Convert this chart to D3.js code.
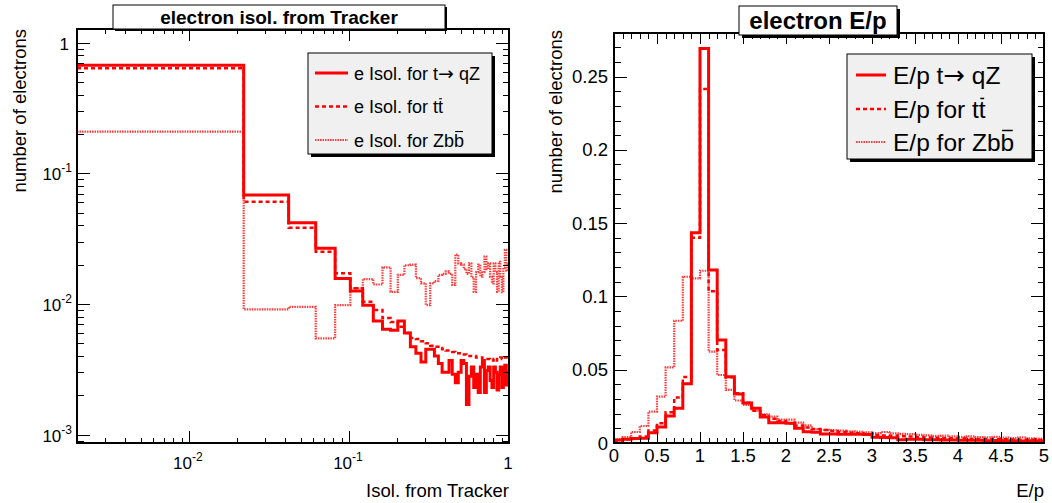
<!DOCTYPE html>
<html><head><meta charset="utf-8">
<script src="https://cdn.jsdelivr.net/npm/d3@7"></script>
<style>
body{margin:0;background:#fff}
svg{display:block}
text{font-family:"Liberation Sans",Arial,Helvetica,sans-serif;fill:#000}
</style>
</head><body>
<svg id="c" width="1052" height="503"></svg>
<script>
// ---------------- DATA ----------------
// Left panel: electron isolation from tracker, 50 bins from 0.002 to 1.002 (width 0.02)
const isoLow = 0.002, isoWidth = 0.02, isoNBins = 50;
const isoTqZ = [0.671,0.0683,0.0419,0.0267,0.0157,0.0126,0.0098,0.0074,0.0064,0.0063,
  0.0074,0.0060,0.0047,0.0042,0.0036,0.0045,0.0045,0.0040,0.0035,0.0030,
  0.0030,0.0037,0.0029,0.0025,0.0030,0.0037,0.0035,0.0017,0.0028,0.0033,
  0.0023,0.0029,0.0021,0.0033,0.0037,0.0021,0.0031,0.0033,0.0026,0.0023,
  0.0033,0.0030,0.0022,0.0029,0.0033,0.0023,0.0030,0.0034,0.0024,0.0030];
const isoTT = [0.637,0.0607,0.0384,0.0251,0.0172,0.0132,0.0104,0.0090,0.0078,0.0073,
  0.0067,0.0060,0.0055,0.0054,0.0052,0.0050,0.0048,0.0047,0.0046,0.0045,
  0.0044,0.0044,0.0043,0.0042,0.0042,0.0041,0.0041,0.0040,0.0040,0.0040,
  0.0040,0.0039,0.0039,0.0039,0.0038,0.0038,0.0038,0.0038,0.0037,0.0037,
  0.0038,0.0037,0.0038,0.0038,0.0039,0.0038,0.0039,0.0039,0.0039,0.0039];
const isoZbb = [0.2084,0.0091,0.0095,0.00546,0.0098,0.0132,0.0155,0.0141,0.0191,0.0124,
  0.0167,0.0198,0.0200,0.0158,0.0144,0.0098,0.0144,0.0150,0.0167,0.0170,
  0.0178,0.0170,0.0140,0.0239,0.0205,0.0200,0.0185,0.0170,0.0205,0.0160,
  0.0124,0.0175,0.0200,0.0162,0.0175,0.0231,0.0185,0.0205,0.0162,0.0144,
  0.0205,0.0175,0.0124,0.0210,0.0162,0.0123,0.0190,0.0260,0.0180,0.0200];

// Right panel: electron E/p, 50 bins from 0 to 5
const epLow = 0, epWidth = 0.1, epNBins = 50;
const epTqZ = [0.0020,0.0025,0.0030,0.0033,0.0070,0.0110,0.0184,0.0237,0.0405,0.1435,
  0.2692,0.1180,0.0703,0.0452,0.0335,0.0273,0.0237,0.0178,0.0139,0.0139,
  0.0135,0.0100,0.0077,0.0074,0.0062,0.0061,0.0060,0.0060,0.0060,0.0058,
  0.0039,0.0038,0.0035,0.0022,0.0026,0.0025,0.0022,0.0023,0.0020,0.0021,
  0.0019,0.0018,0.0018,0.0016,0.0017,0.0015,0.0016,0.0014,0.0015,0.0013];
const epTT = [0.0015,0.0025,0.0030,0.0045,0.0085,0.0135,0.0210,0.0310,0.0450,0.1400,
  0.2415,0.1035,0.0634,0.0448,0.0340,0.0275,0.0220,0.0190,0.0165,0.0150,
  0.0135,0.0120,0.0105,0.0095,0.0088,0.0082,0.0075,0.0070,0.0066,0.0060,
  0.0055,0.0052,0.0050,0.0046,0.0044,0.0040,0.0038,0.0036,0.0034,0.0032,
  0.0030,0.0029,0.0028,0.0027,0.0026,0.0025,0.0024,0.0023,0.0022,0.0021];
const epZbb = [0.0025,0.0040,0.0075,0.0116,0.0214,0.0316,0.0516,0.0834,0.1134,0.1123,
  0.1175,0.0623,0.0464,0.0362,0.0290,0.0260,0.0220,0.0196,0.0180,0.0160,
  0.0160,0.0139,0.0120,0.0095,0.0090,0.0088,0.0085,0.0080,0.0078,0.0072,
  0.0068,0.0075,0.0065,0.0062,0.0060,0.0055,0.0052,0.0048,0.0050,0.0045,
  0.0042,0.0046,0.0040,0.0038,0.0042,0.0036,0.0034,0.0038,0.0032,0.0030];

// legend label parts: [prefix, arrow?, suffix, overlined char]
const leftLegend = [["e Isol. for t", true, " qZ", ""],["e Isol. for t", false, "", "t"],["e Isol. for Zb", false, "", "b"]];
const rightLegend = [["E/p t", true, " qZ", ""],["E/p for t", false, "", "t"],["E/p for Zb", false, "", "b"]];
const leftTitle = "electron isol. from Tracker", rightTitle = "electron E/p";
const yTitle = "number of electrons", leftXTitle = "Isol. from Tracker", rightXTitle = "E/p";

// ---------------- STYLES ----------------
const styles = [
  {stroke:"#ff0000", width:3, dash:null, op:1},
  {stroke:"#ff0000", width:2.5, dash:"4,3", op:1},
  {stroke:"#ff1a1a", width:2.2, dash:"1.5,1", op:0.85}
];

const svg = d3.select("#c");

function edgesOf(low, w, n){ return d3.range(n+1).map(k => low + w*k); }
function hist(g, edges, vals, x, y, st){
  const pts = vals.map((v,i)=>[edges[i], v]);
  pts.push([edges[vals.length], vals[vals.length-1]]);
  const line = d3.line().x(d=>x(d[0])).y(d=>y(d[1])).curve(d3.curveStepAfter);
  g.append("path").attr("d", line(pts)).attr("fill","none")
    .attr("stroke", st.stroke).attr("stroke-width", st.width)
    .attr("stroke-dasharray", st.dash).attr("stroke-opacity", st.op);
}
function tickAxis(g, axisFn, scale, vals, size, tx, ty){
  g.append("g").attr("transform",`translate(${tx},${ty})`)
    .call(axisFn(scale).tickValues(vals).tickSize(size).tickFormat(""))
    .call(s=>s.select(".domain").remove())
    .call(s=>s.selectAll(".tick line").attr("stroke","#000").attr("stroke-width",1).attr("shape-rendering","crispEdges"));
}
function boxWithShadow(x, y, w, h, fill, sh){
  svg.append("rect").attr("x",x+sh).attr("y",y+sh).attr("width",w).attr("height",h).attr("fill","#000");
  svg.append("rect").attr("x",x).attr("y",y).attr("width",w).attr("height",h)
    .attr("fill",fill).attr("stroke","#000").attr("stroke-width",1);
}
function legend(x0, y0, w, h, sampleX0, sampleX1, textX, rowsY, fs, labels){
  boxWithShadow(x0, y0, w, h, "#f0f0f0", 3);
  labels.forEach((lab,i)=>{
    const st = styles[i], yy = rowsY[i];
    svg.append("line").attr("x1",sampleX0).attr("x2",sampleX1).attr("y1",yy).attr("y2",yy)
      .attr("stroke",st.stroke).attr("stroke-width",st.width)
      .attr("stroke-dasharray",st.dash).attr("stroke-opacity",st.op);
    const base = yy+fs*0.37;
    const t = svg.append("text").attr("x",textX).attr("y",base).attr("font-size",fs);
    t.append("tspan").text(lab[0]);
    if(lab[1]) t.append("tspan").style("font-family","'DejaVu Sans'").attr("font-size",fs*1.05).text("\u2192");
    if(lab[2]) t.append("tspan").text(lab[2]);
    if(lab[3]){
      t.append("tspan").text(lab[3]);
      const node = t.node();
      const idx = node.getNumberOfChars()-1;
      const ext = node.getExtentOfChar(idx);
      const top = base - fs*(lab[3]==="b" ? 0.84 : 0.80);
      svg.append("line").attr("x1",ext.x+fs*0.06).attr("x2",ext.x+ext.width-fs*0.06)
        .attr("y1",top).attr("y2",top).attr("stroke","#000").attr("stroke-width",Math.max(1,fs*0.06));
    }
  });
}

// ================= LEFT PANEL =================
const L = {x0:77, x1:509, y0:29, y1:443};
const xL = d3.scaleLog().domain([0.002, 1]).range([L.x0, L.x1]);
const yL = d3.scaleLog().domain([0.000864, 1.272]).range([L.y1, L.y0]);

svg.append("clipPath").attr("id","clipL").append("rect")
  .attr("x",L.x0).attr("y",L.y0).attr("width",L.x1-L.x0).attr("height",L.y1-L.y0);
const gL = svg.append("g").attr("clip-path","url(#clipL)");
const isoEdges = edgesOf(isoLow, isoWidth, isoNBins);
hist(gL, isoEdges, isoZbb, xL, yL, styles[2]);
hist(gL, isoEdges, isoTT, xL, yL, styles[1]);
hist(gL, isoEdges, isoTqZ, xL, yL, styles[0]);

// ticks
const xLmaj = [0.01, 0.1, 1];
const xLmin = [];
[0.001,0.01,0.1].forEach(d=>{ for(let k=2;k<=9;k++){ const v=k*d; if(v>=0.002 && v<1) xLmin.push(v);} });
const yLmaj = [0.001,0.01,0.1,1];
const yLmin = [];
[0.0001,0.001,0.01,0.1].forEach(d=>{ for(let k=2;k<=9;k++){ const v=k*d; if(v>=0.000864 && v<=1.272) yLmin.push(v);} });
tickAxis(svg, d3.axisBottom, xL, xLmaj, -12, 0, L.y1);
tickAxis(svg, d3.axisBottom, xL, xLmin, -5, 0, L.y1);
tickAxis(svg, d3.axisTop, xL, xLmaj, -12, 0, L.y0);
tickAxis(svg, d3.axisTop, xL, xLmin, -5, 0, L.y0);
tickAxis(svg, d3.axisLeft, yL, yLmaj, -13, L.x0, 0);
tickAxis(svg, d3.axisLeft, yL, yLmin, -6.5, L.x0, 0);
tickAxis(svg, d3.axisRight, yL, yLmaj, -13, L.x1, 0);
tickAxis(svg, d3.axisRight, yL, yLmin, -6.5, L.x1, 0);

// frame
svg.append("rect").attr("x",L.x0).attr("y",L.y0).attr("width",L.x1-L.x0).attr("height",L.y1-L.y0)
  .attr("fill","none").attr("stroke","#000").attr("stroke-width",2);

// labels
function powLabel(parent, v, x, y, anchor){
  const e = Math.round(Math.log10(v));
  const t = parent.append("text").attr("x",x).attr("y",y).attr("font-size",17).attr("text-anchor",anchor);
  if(e===0){ t.text("1"); return; }
  t.append("tspan").text("10");
  t.append("tspan").attr("dy",-8).attr("font-size",12).text(String(e));
}
xLmaj.forEach(v=> powLabel(svg, v, xL(v)-1, 469, "middle"));
yLmaj.forEach(v=> powLabel(svg, v, Math.log10(v)===0 ? 69 : 72, yL(v)+7, "end"));

// axis titles
svg.append("text").attr("x",L.x1).attr("y",497).attr("text-anchor","end").attr("font-size",18.5).text(leftXTitle);
svg.append("text").attr("transform",`translate(26,${L.y0}) rotate(-90)`).attr("text-anchor","end")
  .attr("font-size",18.5).text(yTitle);

// title box
boxWithShadow(113, 5, 332, 24, "#fff", 2);
svg.append("text").attr("x",279).attr("y",24).attr("text-anchor","middle").attr("font-size",19)
  .attr("font-weight","bold").text(leftTitle);

legend(308, 53, 184, 101, 315, 348, 354, [73,106.5,140], 18, leftLegend);

// ================= RIGHT PANEL =================
const R = {x0:614, x1:1044, y0:33, y1:443};
const xR = d3.scaleLinear().domain([0, 5]).range([R.x0, R.x1]);
const yR = d3.scaleLinear().domain([0, 0.2797]).range([R.y1, R.y0]);

svg.append("clipPath").attr("id","clipR").append("rect")
  .attr("x",R.x0).attr("y",R.y0).attr("width",R.x1-R.x0).attr("height",R.y1-R.y0);
const gR = svg.append("g").attr("clip-path","url(#clipR)");
const epEdges = edgesOf(epLow, epWidth, epNBins);
hist(gR, epEdges, epZbb, xR, yR, styles[2]);
hist(gR, epEdges, epTT, xR, yR, styles[1]);
hist(gR, epEdges, epTqZ, xR, yR, styles[0]);

const xRmaj = d3.range(0, 11).map(k=>k*0.5);
const xRmin = d3.range(0, 51).map(k=>k*0.1);
const yRmaj = d3.range(0, 6).map(k=>k*0.05);
const yRmin = d3.range(0, 28).map(k=>k*0.01);
tickAxis(svg, d3.axisBottom, xR, xRmaj, -11, 0, R.y1);
tickAxis(svg, d3.axisBottom, xR, xRmin, -5.5, 0, R.y1);
tickAxis(svg, d3.axisTop, xR, xRmaj, -11, 0, R.y0);
tickAxis(svg, d3.axisTop, xR, xRmin, -5.5, 0, R.y0);
tickAxis(svg, d3.axisLeft, yR, yRmaj, -13, R.x0, 0);
tickAxis(svg, d3.axisLeft, yR, yRmin, -6.5, R.x0, 0);
tickAxis(svg, d3.axisRight, yR, yRmaj, -13, R.x1, 0);
tickAxis(svg, d3.axisRight, yR, yRmin, -6.5, R.x1, 0);

svg.append("rect").attr("x",R.x0).attr("y",R.y0).attr("width",R.x1-R.x0).attr("height",R.y1-R.y0)
  .attr("fill","none").attr("stroke","#000").attr("stroke-width",2);

const fmt = d3.format("");
xRmaj.forEach(v=> svg.append("text").attr("x",xR(v)).attr("y",462).attr("text-anchor","middle")
  .attr("font-size",18.5).text(fmt(+v.toFixed(2))));
yRmaj.forEach(v=> svg.append("text").attr("x",608).attr("y",yR(v)+6.5).attr("text-anchor","end")
  .attr("font-size",18.5).text(fmt(+v.toFixed(2))));

svg.append("text").attr("x",R.x1).attr("y",497).attr("text-anchor","end").attr("font-size",18.5).text(rightXTitle);
svg.append("text").attr("transform",`translate(562,30) rotate(-90)`).attr("text-anchor","end")
  .attr("font-size",18.5).text(yTitle);

boxWithShadow(739, 6, 158, 29, "#fff", 3);
svg.append("text").attr("x",818).attr("y",29).attr("text-anchor","middle").attr("font-size",24)
  .attr("font-weight","bold").text(rightTitle);

legend(847, 54, 185, 105, 856, 886, 893, [75,109,142], 24.5, rightLegend);
</script>
</body></html>
